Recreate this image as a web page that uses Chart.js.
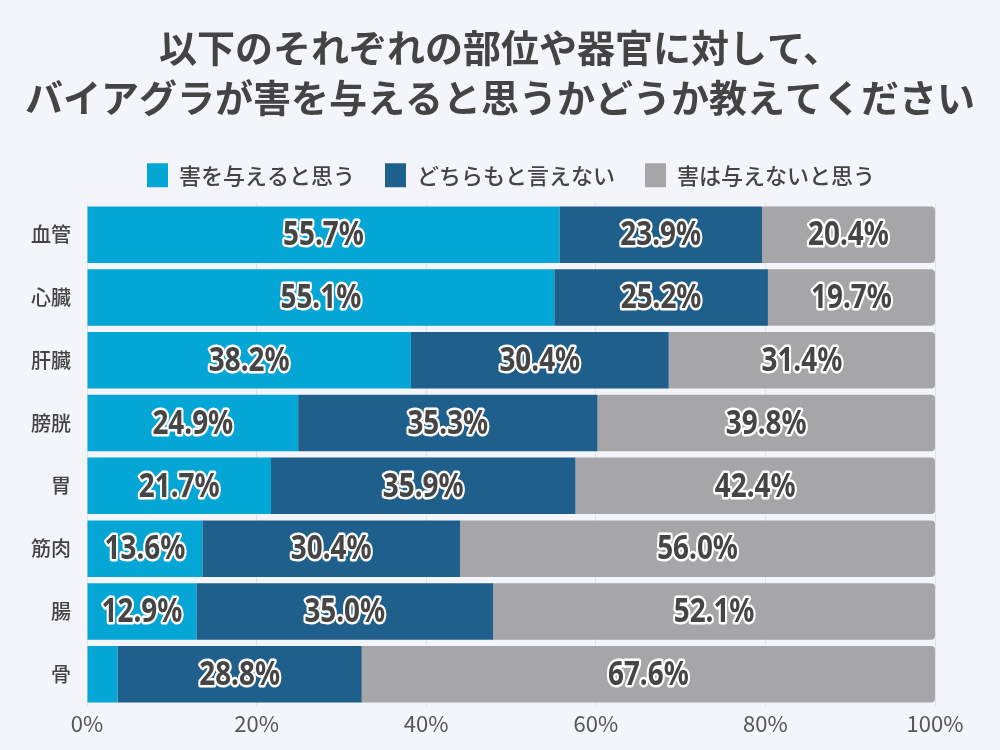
<!DOCTYPE html>
<html>
<head>
<meta charset="utf-8">
<script src="https://cdn.jsdelivr.net/npm/chart.js@4/dist/chart.umd.min.js"></script>
<style>
  html, body { margin: 0; padding: 0; background: #f4f5fa; }
  #wrap { width: 1000px; height: 750px; }
</style>
</head>
<body>
<div id="wrap"><canvas id="myChart" width="1000" height="750"></canvas></div>
<script>
// data
var categories = ["血管", "心臓", "肝臓", "膀胱", "胃", "筋肉", "腸", "骨"];
var seriesNames = ["害を与えると思う", "どちらもと言えない", "害は与えないと思う"];
var harmful = [55.7, 55.1, 38.2, 24.9, 21.7, 13.6, 12.9, 3.6];
var neither = [23.9, 25.2, 30.4, 35.3, 35.9, 30.4, 35.0, 28.8];
var notHarmful = [20.4, 19.7, 31.4, 39.8, 42.4, 56.0, 52.1, 67.6];
var xTicks = [0, 20, 40, 60, 80, 100];
var titleLines = ["以下のそれぞれの部位や器官に対して、", "バイアグラが害を与えると思うかどうか教えてください"];

var colors = ['#04a6d5', '#1f5f8b', '#a6a6a8'];
var jpFont = '"Noto Sans CJK JP", "Noto Sans", sans-serif';

// labels inside the bars, white outline + dark text (squeezed a bit, the original font is condensed)
var barLabels = {
    id: 'barLabels',
    afterDatasetsDraw: function (chart) {
        var ctx = chart.ctx;
        chart.data.datasets.forEach(function (ds, i) {
            chart.getDatasetMeta(i).data.forEach(function (bar, j) {
                var v = ds.data[j];
                if (v < 5) return;
                var txt = v.toFixed(1) + '%';
                ctx.save();
                ctx.translate((bar.x + bar.base) / 2, bar.y + 1);
                ctx.scale(0.82, 1);
                ctx.font = 'bold 34px "Noto Sans", sans-serif';
                ctx.textAlign = 'center';
                ctx.textBaseline = 'middle';
                ctx.lineJoin = 'round';
                ctx.lineWidth = 5;
                ctx.strokeStyle = '#ffffff';
                ctx.strokeText(txt, 0, 0);
                ctx.fillStyle = '#454545';
                ctx.fillText(txt, 0, 0);
                ctx.restore();
            });
        });
    }
};

var bgFill = {
    id: 'bgFill',
    beforeDraw: function (chart) {
        var ctx = chart.ctx;
        ctx.save();
        ctx.fillStyle = '#f4f5fa';
        ctx.fillRect(0, 0, chart.width, chart.height);
        ctx.restore();
    }
};

var ctx = document.getElementById("myChart").getContext('2d');
var chart = new Chart(ctx, {
    type: 'bar',
    data: {
        labels: categories,
        datasets: [
            { label: seriesNames[0], data: harmful, backgroundColor: colors[0], borderRadius: 4 },
            { label: seriesNames[1], data: neither, backgroundColor: colors[1], borderRadius: 4 },
            { label: seriesNames[2], data: notHarmful, backgroundColor: colors[2], borderRadius: 4 }
        ]
    },
    options: {
        responsive: false,
        animation: false,
        indexAxis: 'y',
        layout: { padding: { left: 0, right: 0, top: 0, bottom: 8 } },
        datasets: { bar: { categoryPercentage: 0.9, barPercentage: 1.0 } },
        scales: {
            x: {
                stacked: true,
                min: 0, max: 100,
                afterBuildTicks: function (axis) {
                    axis.ticks = xTicks.map(function (v) { return { value: v }; });
                },
                afterFit: function (axis) { axis.paddingRight = 65; axis.paddingLeft = 0; },
                ticks: {
                    callback: function (v) { return v + '%'; },
                    font: { family: jpFont, size: 22 },
                    color: '#555555',
                    padding: 5
                },
                grid: { color: '#dfe3ea', drawTicks: false },
                border: { display: false }
            },
            y: {
                stacked: true,
                afterFit: function (axis) { axis.width = 87; },
                ticks: {
                    font: { family: jpFont, size: 20, weight: '500' },
                    color: '#444444',
                    padding: 8
                },
                grid: { display: false },
                border: { display: false }
            }
        },
        plugins: {
            title: {
                display: true,
                text: titleLines,
                font: { family: jpFont, size: 38, weight: 'bold', lineHeight: 1.32 },
                color: '#444444',
                padding: { top: 22, bottom: 11 }
            },
            // empty spacer under the legend
            subtitle: {
                display: true,
                text: '',
                weight: 500,
                font: { size: 1, lineHeight: 1 },
                padding: { top: 0, bottom: 5 }
            },
            legend: {
                display: true,
                fullSize: false,
                labels: {
                    font: { family: jpFont, size: 22, weight: '500' },
                    color: '#444444',
                    boxWidth: 21,
                    boxHeight: 24,
                    padding: 30
                }
            },
            tooltip: { enabled: false }
        }
    },
    plugins: [bgFill, barLabels]
});
</script>
</body>
</html>
